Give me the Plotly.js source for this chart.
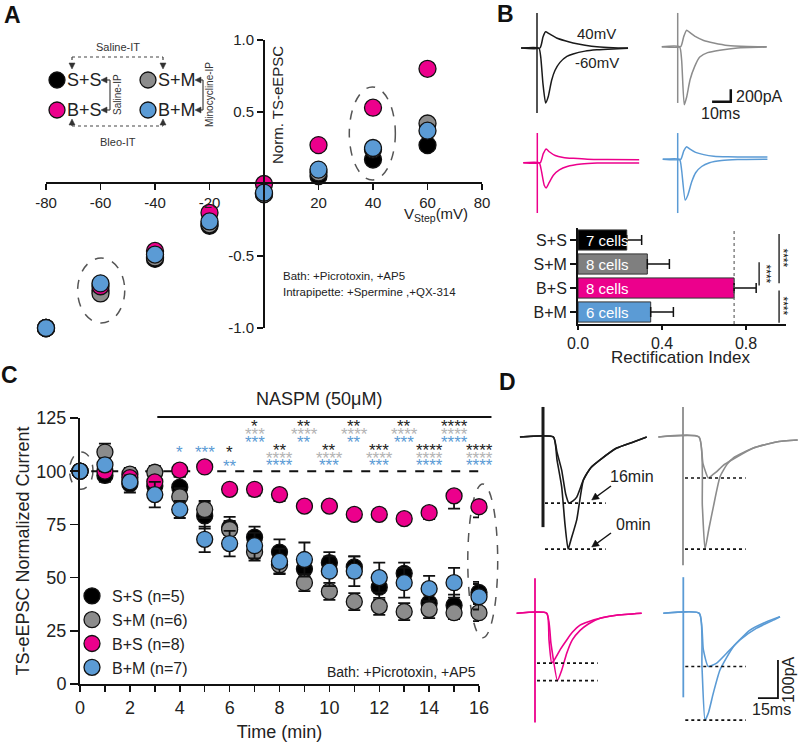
<!DOCTYPE html>
<html><head><meta charset="utf-8">
<script src="https://cdn.plot.ly/plotly-3.0.1.min.js"></script>
<style>body{margin:0;background:#fff}</style>
</head><body><div id="chart" style="width:800px;height:742px"></div>
<script>
// ================= DATA =================
const groups = ['S+S','S+M','B+S','B+M'];
const groupColors = ['#000000','#8c8c8c','#ec008c','#5b9bd5'];
const legendNames = ['S+S (n=5)','S+M (n=6)','B+S (n=8)','B+M (n=7)'];

// Panel A: I-V relation (normalized TS-eEPSC)
const vStep = [-80,-60,-40,-20,0,20,40,60];
const ivSS = [-1.0,-0.74,-0.52,-0.29,-0.07,0.055,0.17,0.27];
const ivSM = [-1.0,-0.76,-0.51,-0.28,-0.07,0.08,0.24,0.42];
const ivBS = [-1.0,-0.71,-0.465,-0.20,0.0,0.27,0.53,0.80];
const ivBM = [-1.0,-0.69,-0.49,-0.26,-0.06,0.10,0.25,0.37];
const ivXTicks = [-80,-60,-40,-20,20,40,60,80];
const ivXText = ['-80','-60','-40','-20','20','40','60','80'];
const ivYTicks = [-1.0,-0.5,0.5,1.0];
const ivYText = ['-1.0','-0.5','0.5','1.0'];

// Panel B: rectification index
const riValues = [0.232,0.33,0.743,0.346];
const riErrors = [0.071,0.105,0.105,0.108];
const riCells = ['7 cells','8 cells','8 cells','6 cells'];
const riTicks = [0,0.4,0.8];
const riTickText = ['0.0','0.4','0.8'];

// Panel B example traces (ms, pA) at -60 mV and +40 mV
const bSS_n60_t = [-8.5,1,2,3.2,4.6,6,7.8,9.6,12.3,16,19.3,25.7,32,40.7,48.7];
const bSS_n60_pA = [0,0,-145,-575,-880,-780,-520,-360,-230,-135,-95,-50,-30,-15,-5];
const bSS_p40_t = [-8.5,1.6,3.2,4.6,6.4,10.5,15,19.3,25.7,32,40.7,48.7];
const bSS_p40_pA = [0,0,175,260,230,160,115,80,45,20,5,0];
const bSS_art = [560,-1040];
const bSM_n60_t = [-8.5,1,2.1,3.5,4.8,6.6,9.1,11.8,16,22.5,32,47.6];
const bSM_n60_pA = [0,0,-215,-930,-805,-530,-315,-165,-95,-55,-20,-5];
const bSM_p40_t = [-8.5,1.6,3.2,4.8,6.4,9.6,13.9,19.3,26.8,37.5,47.6];
const bSM_p40_pA = [0,0,160,265,230,160,100,60,20,5,0];
const bSM_art = [540,-900];
const bBS_n60_t = [-7.5,1,2.1,3.7,4.8,6.4,8.6,11.8,16,23.5,32,54.5];
const bBS_n60_pA = [0,0,-115,-360,-405,-315,-200,-115,-60,-20,-5,-5];
const bBS_p40_t = [-7.5,1.6,3.2,4.8,6.4,9.6,13.9,19.3,26.8,37.5,54.5];
const bBS_p40_pA = [0,0,145,219,175,115,85,70,55,50,48];
const bBS_art = [475,-805];
const bBM_n60_t = [-8,1,2.1,4,5.4,7.5,9.6,12.8,17,23.5,32,48];
const bBM_n60_pA = [0,0,-175,-651,-575,-360,-215,-115,-55,-20,-5,0];
const bBM_p40_t = [-8,1.6,3.2,4.8,6.4,9.6,13.9,19.3,26.8,37.5,48];
const bBM_p40_pA = [0,0,130,202,165,110,75,50,40,36,36];
const bBM_art = [420,-860];
const scaleB_ms = 10, scaleB_pA = 200;

// Panel C: NASPM time course
const timeMin = [0,1,2,3,4,5,6,7,8,9,10,11,12,13,14,15,16];
const cSS = [100,98,94,93,92.5,79,73.5,69,62,54,57,55,45.5,52,38,37,43];
const cSM = [100,109,98.6,99.5,88,82,72.6,62,56,47.6,43.5,38.7,36.5,34,35,33.5,33.5];
const cBS = [100,100,97,95,100.5,102,91.5,91.5,89,83.6,83.6,79.7,79.7,77.7,80.5,88.4,83.3];
const cBM = [100,103,95,89,82,68,66,65,57.6,58.5,53,53,50,47.6,44.8,47.6,41];
const cSS_err = [0,3,4,4,5,6,5,5,6,6,5,5,6,5,4,5,5];
const cSM_err = [0,4,3,3,4,4,4,4,4,4,4,4,4,4,4,3,4];
const cBS_err = [0,2,2,2,3,2,2,3,3,2,2,2,2,2,3,6,5];
const cBM_err = [0,3,3,6,4,6,6,6,6,8,7,7,7,7,6,7,6];
const cYTicks = [0,25,50,75,100,125];
const starTimes = [4,5,6,7,8,9,10,11,12,13,14,15,16];
const starSS = ['','','*','*','**','**','**','**','***','**','****','****','****'];
const starSM = ['','','','***','****','****','****','****','****','****','****','****','****'];
const starBM = ['*','***','**','***','****','**','***','**','***','***','****','****','****'];

// Panel D example traces (ms, pA) at 0 min and 16 min of NASPM
const dSS_0_t = [-17.3,7.8,10.5,14,16.5,18.8,21,25.3,30.3,36,42.8,55.3,67.8,77.8];
const dSS_0_pA = [0,0,-60,-131,-230,-295,-270,-218,-113,-80,-60,-29,-13,0];
const dSS_16_t = [-17.3,7.8,10.5,14,17,19.5,22.5,25.3,30.3,36,42.8,55.3,67.8,77.8];
const dSS_16_pA = [0,0,-40,-87,-150,-174,-168,-158,-113,-80,-60,-29,-13,0];
const dSS_art = [79,-237];
const dSM_0_t = [-18.5,12,14.5,16.5,19.5,22.8,27.8,33,37.8,52.8,70,86];
const dSM_0_pA = [0,0,-180,-295,-240,-183,-104,-72,-55,-29,-13,-8];
const dSM_16_t = [-18.5,12,15,19,22,25.3,30,37.8,52.8,70,86];
const dSM_16_pA = [0,0,-70,-108,-100,-91,-75,-58,-29,-13,-8];
const dSM_art = [79,-337];
const dBS_0_t = [-13.8,8.8,12,16.8,20,23.8,28,33.8,40,48.8,61,80];
const dBS_0_pA = [0,0,-80,-177,-150,-105,-70,-45,-28,-13,-5,0];
const dBS_16_t = [-13.8,8.8,10.5,12.5,15,19,23.8,28,33.8,40,48.8,61,80];
const dBS_16_pA = [0,0,-70,-131,-120,-95,-70,-50,-31,-22,-13,-5,0];
const dBS_art = [92,-287];
const dBM_0_t = [-15,12,14,16.3,19,22.5,27.5,37.5,50,62.5,72.5];
const dBM_0_pA = [0,0,-140,-281,-260,-210,-149,-88,-44,-22,-9];
const dBM_16_t = [-15,12,15,18.8,25,32.5,42.5,55,67.5,72.5];
const dBM_16_pA = [0,0,-95,-140,-131,-105,-70,-39,-18,-9];
const dBM_art = [95,-221];
const scaleD_ms = 15, scaleD_pA = 100;

// ================= LAYOUT HELPERS =================
const W = 800, H = 742;
const px = x => x / W;
const py = y => (H - y) / H;
const FONT = 'Liberation Sans, Arial, Helvetica, sans-serif';
const traceCol = ['#1a1a1a','#8c8c8c','#ec008c','#5b9bd5'];

const layout = {
  width: W, height: H,
  margin: {l:0, r:0, t:0, b:0},
  paper_bgcolor: '#ffffff', plot_bgcolor: 'rgba(0,0,0,0)',
  font: {family: FONT, color: '#222', size: 14},
  showlegend: true,
  legend: {x: px(72), y: py(579), xanchor: 'left', yanchor: 'top', bgcolor: 'rgba(0,0,0,0)',
           font: {size: 16, family: FONT, color: '#222'}, itemsizing: 'trace', tracegroupgap: 0},
  shapes: [], annotations: []
};
const traces = [];
const S = layout.shapes, A = layout.annotations;

function segPx(x0,y0,x1,y1,dash,col,w){
  S.push({type:'line', xref:'paper', yref:'paper', x0:px(x0), y0:py(y0), x1:px(x1), y1:py(y1),
          line:{color:col||'#444', width:w||1.2, dash:dash||'solid'}});
}
function headPx(tx,ty,ux,uy,len,half,col){
  const L = Math.hypot(ux,uy); ux/=L; uy/=L;
  const bx = tx-ux*len, by = ty-uy*len, nx = -uy, ny = ux;
  const pts = [[tx,ty],[bx+nx*half,by+ny*half],[bx-nx*half,by-ny*half]];
  S.push({type:'path', xref:'paper', yref:'paper',
    path:'M'+pts.map(p=>px(p[0])+','+py(p[1])).join(' L')+' Z',
    fillcolor:col||'#333', line:{color:col||'#333', width:0.5}});
}
function circPx(cx, cy, r, col){
  S.push({type:'circle', xref:'paper', yref:'paper', x0:px(cx-r), x1:px(cx+r), y0:py(cy+r), y1:py(cy-r),
          fillcolor:col, line:{color:'#111', width:1.3}});
}
function textPx(t, x, y, size, opts){
  A.push(Object.assign({text:t, xref:'paper', yref:'paper', x:px(x), y:py(y), showarrow:false,
    xanchor:'center', yanchor:'middle', font:{size:size, color:'#222'}}, opts||{}));
}

// ----- Panel A axes (cross at origin) -----
layout.xaxis = {domain:[px(46), px(482)], range:[-80,80], anchor:'free', position: py(183),
  tickvals: ivXTicks, ticktext: ivXText, ticks:'outside', ticklen:6, tickwidth:1.5, tickcolor:'#111',
  showline:true, linewidth:2, linecolor:'#111', showgrid:false, zeroline:false,
  tickfont:{size:15, color:'#222'}, fixedrange:true};
layout.yaxis = {domain:[py(328), py(40)], range:[-1,1], anchor:'free', position: px(264),
  tickvals: ivYTicks, ticktext: ivYText, ticks:'outside', ticklen:6, tickwidth:1.5, tickcolor:'#111',
  showline:true, linewidth:2, linecolor:'#111', showgrid:false, zeroline:false,
  tickfont:{size:15, color:'#222'}, fixedrange:true};

[ivSS, ivSM, ivBS, ivBM].forEach((vals, i) => traces.push({
  type:'scatter', mode:'markers', x: vStep, y: vals, xaxis:'x', yaxis:'y',
  marker:{size:17, color: groupColors[i], line:{color:'#111', width:1.3}},
  cliponaxis:false, showlegend:false, hoverinfo:'skip'}));

S.push({type:'circle', xref:'x', yref:'y', x0:-68.4, x1:-51.1, y0:-0.965, y1:-0.514, layer:'below',
        line:{color:'#555', width:1.5, dash:'dash'}});
S.push({type:'circle', xref:'x', yref:'y', x0:31.3, x1:48.2, y0:0.028, y1:0.674, layer:'below',
        line:{color:'#555', width:1.5, dash:'dash'}});

textPx('Norm. TS-eEPSC', 278, 105, 15, {textangle:-90});
textPx('V<sub>Step</sub>(mV)', 470, 214, 15, {xanchor:'right'});
textPx('Bath: +Picrotoxin, +AP5', 281, 276, 11.5, {xanchor:'left'});
textPx('Intrapipette: +Spermine ,+QX-314', 281, 292, 11.5, {xanchor:'left'});

// schematic legend in A
const schem = [[57,80],[148,80],[57,110],[148,110]]; // S+S, S+M, B+S, B+M
groups.forEach((g,i)=>{
  circPx(schem[i][0], schem[i][1], 8, groupColors[i]);
  textPx(g, schem[i][0]+8, schem[i][1], 18, {xanchor:'left'});
});
segPx(72,57,163,57,'dot'); segPx(72,57,72,64,'dot'); segPx(163,57,163,64,'dot');
headPx(72,69,0,1,6,3); headPx(163,69,0,1,6,3);
textPx('Saline-IT', 118, 47, 11, {font:{size:11, color:'#333'}});
segPx(72,126,163,126,'dot'); segPx(72,126,72,124,'dot'); segPx(163,126,163,124,'dot');
headPx(72,119,0,-1,6,3); headPx(163,119,0,-1,6,3);
textPx('Bleo-IT', 118, 142, 11, {font:{size:11, color:'#333'}});
segPx(110,80,110,110,'solid','#444',1.2); segPx(105,80,110,80,'solid','#444',1.2); segPx(105,110,110,110,'solid','#444',1.2);
headPx(101,80,-1,0,6,3); headPx(101,110,-1,0,6,3);
textPx('Saline-IP', 118, 95, 10, {textangle:-90, font:{size:10, color:'#333'}});
segPx(203,80,203,110,'solid','#444',1.2); segPx(199,80,203,80,'solid','#444',1.2); segPx(199,110,203,110,'solid','#444',1.2);
headPx(195,80,-1,0,6,3); headPx(195,110,-1,0,6,3);
textPx('Minocycline-IP', 210, 95, 10, {textangle:-90, font:{size:10, color:'#333'}});

// ----- Panel B bar chart -----
layout.xaxis2 = {domain:[px(578), px(786)], range:[0,0.99], anchor:'y2', tickvals: riTicks, ticktext: riTickText,
  ticks:'outside', ticklen:4, tickwidth:1.5, tickcolor:'#111', showline:true, linewidth:2, linecolor:'#111',
  showgrid:false, zeroline:false, tickfont:{size:16}, fixedrange:true};
layout.yaxis2 = {domain:[py(324), py(228)], type:'category', categoryorder:'array', categoryarray: groups,
  range:[3.5,-0.5], anchor:'x2', ticks:'outside', ticklen:6, tickwidth:1.5, tickcolor:'#111',
  showline:true, linewidth:2, linecolor:'#111', showgrid:false, tickfont:{size:16}, fixedrange:true};
traces.push({type:'bar', orientation:'h', x: riValues, y: groups, xaxis:'x2', yaxis:'y2',
  marker:{color: ['#000000','#7f7f7f','#ec008c','#5b9bd5'], line:{color:'#333', width:1}},
  error_x:{type:'data', symmetric:false, array: riErrors, arrayminus: riErrors.map(()=>0), color:'#111', thickness:1.5, width:5},
  width:0.84, showlegend:false, hoverinfo:'skip'});
textPx('Rectification Index', 680, 357, 17);
riCells.forEach((t,i)=>A.push({text:t, xref:'x2', yref:'y2', x:0, y:groups[i], xanchor:'left', yanchor:'middle', xshift:6,
  showarrow:false, font:{size:15, color:'#ffffff'}}));
S.push({type:'line', xref:'x2', yref:'y2 domain', x0:riValues[2], x1:riValues[2], y0:0, y1:1,
  line:{color:'#666', width:1.2, dash:'dot'}});
S.push({type:'line', xref:'x2', yref:'y2', x0:0.862, x1:0.862, y0:0.93, y1:1.9, line:{color:'#111', width:1.3}});
S.push({type:'line', xref:'x2', yref:'y2', x0:0.957, x1:0.957, y0:-0.25, y1:1.8, line:{color:'#111', width:1.3}});
S.push({type:'line', xref:'x2', yref:'y2', x0:0.957, x1:0.957, y0:2.1, y1:3.45, line:{color:'#111', width:1.3}});
[[0.895,1.4],[0.978,0.75],[0.978,2.75]].forEach(p=>A.push({text:'****', xref:'x2', yref:'y2', x:p[0], y:p[1],
  xanchor:'center', yanchor:'middle', textangle:90, showarrow:false, font:{size:12, color:'#111'}}));

// ----- Trace panels (B and D) -----
let tpIndex = 4;
function tracePanel(box, origin, scale){
  const n = tpIndex++;
  layout['xaxis'+n] = {domain:[px(box[0]), px(box[1])], range:[(box[0]-origin[0])*scale[0], (box[1]-origin[0])*scale[0]],
                        anchor:'y'+n, visible:false, fixedrange:true};
  layout['yaxis'+n] = {domain:[py(box[3]), py(box[2])], range:[(origin[1]-box[3])*scale[1], (origin[1]-box[2])*scale[1]],
                        anchor:'x'+n, visible:false, fixedrange:true};
  return n;
}
function addLine(n, t, v, col, w, dash, spline){
  traces.push({type:'scatter', mode:'lines', x:t, y:v, xaxis:'x'+n, yaxis:'y'+n,
    line:{color:col, width:w, dash:dash||'solid', shape: spline ? 'spline' : 'linear', smoothing:0.5},
    showlegend:false, hoverinfo:'skip', cliponaxis:false});
}
const sB = [0.535, 16];
const pB = [
  tracePanel([512,648,0,122],[537,48],sB),
  tracePanel([652,800,0,122],[677.7,46.7],sB),
  tracePanel([512,648,125,225],[537.3,162.7],sB),
  tracePanel([652,800,125,225],[677.7,159.3],sB)];
const bData = [
  [bSS_n60_t,bSS_n60_pA,bSS_p40_t,bSS_p40_pA,bSS_art],
  [bSM_n60_t,bSM_n60_pA,bSM_p40_t,bSM_p40_pA,bSM_art],
  [bBS_n60_t,bBS_n60_pA,bBS_p40_t,bBS_p40_pA,bBS_art],
  [bBM_n60_t,bBM_n60_pA,bBM_p40_t,bBM_p40_pA,bBM_art]];
bData.forEach((d,i)=>{
  addLine(pB[i], [0,0], d[4], traceCol[i], 1.5);
  addLine(pB[i], d[0], d[1], traceCol[i], 1.5, null, true);
  addLine(pB[i], d[2], d[3], traceCol[i], 1.5, null, true);
});
const sbB = [28.4, -880];
addLine(pB[1], [sbB[0]-scaleB_ms, sbB[0], sbB[0]], [sbB[1], sbB[1], sbB[1]+scaleB_pA], '#111', 2.5);
A.push({text: scaleB_pA+'pA', xref:'x'+pB[1], yref:'y'+pB[1], x:sbB[0], y:sbB[1]+scaleB_pA*0.45, xanchor:'left', yanchor:'middle', xshift:3,
        showarrow:false, font:{size:16, color:'#222'}});
A.push({text: scaleB_ms+'ms', xref:'x'+pB[1], yref:'y'+pB[1], x:sbB[0]-scaleB_ms*0.55, y:sbB[1], xanchor:'center', yanchor:'top', yshift:-1,
        showarrow:false, font:{size:16, color:'#222'}});
textPx('40mV', 596, 33, 15);
textPx('-60mV', 597, 62, 15);

const sD = [0.75, 2.63];
const pD = [
  tracePanel([505,655,395,565],[543,437],sD),
  tracePanel([655,800,395,572],[683,437],sD),
  tracePanel([505,655,572,735],[535,613.3],sD),
  tracePanel([655,800,572,735],[683.3,613.3],sD)];
const dData = [
  [dSS_0_t,dSS_0_pA,dSS_16_t,dSS_16_pA,dSS_art],
  [dSM_0_t,dSM_0_pA,dSM_16_t,dSM_16_pA,dSM_art],
  [dBS_0_t,dBS_0_pA,dBS_16_t,dBS_16_pA,dBS_art],
  [dBM_0_t,dBM_0_pA,dBM_16_t,dBM_16_pA,dBM_art]];
dData.forEach((d,i)=>{
  addLine(pD[i], [0,0], d[4], traceCol[i], i===0 ? 3 : 1.8);
  addLine(pD[i], d[0], d[1], traceCol[i], 1.6, null, true);
  addLine(pD[i], d[2], d[3], traceCol[i], 1.6, null, true);
  const lv16 = Math.min(...d[3]), lv0 = Math.min(...d[1]);
  addLine(pD[i], [1.5,47], [lv16,lv16], '#111', 1.6, 'dot');
  addLine(pD[i], [1.5,47], [lv0,lv0], '#111', 1.6, 'dot');
});
A.push({text:'16min', xref:'x'+pD[0], yref:'y'+pD[0], x:66.75, y:-105, xanchor:'center', yanchor:'middle', showarrow:false, font:{size:16, color:'#222'}});
A.push({text:'0min', xref:'x'+pD[0], yref:'y'+pD[0], x:67.7, y:-231, xanchor:'center', yanchor:'middle', showarrow:false, font:{size:16, color:'#222'}});
segPx(611,486,596,497,'solid','#111',1.5); headPx(591.7,500,-18,13,7,3.5,'#111');
segPx(611,533,596,544,'solid','#111',1.5); headPx(591.7,547,-18,13,7,3.5,'#111');
const sbD = [71, -223];
addLine(pD[3], [sbD[0]-scaleD_ms, sbD[0], sbD[0]], [sbD[1], sbD[1], sbD[1]+scaleD_pA], '#111', 1.8);
A.push({text: scaleD_pA+'pA', xref:'x'+pD[3], yref:'y'+pD[3], x:sbD[0], y:sbD[1]+scaleD_pA*0.5, xshift:10, textangle:-90,
        xanchor:'center', yanchor:'middle', showarrow:false, font:{size:16, color:'#222'}});
A.push({text: scaleD_ms+'ms', xref:'x'+pD[3], yref:'y'+pD[3], x:sbD[0]-scaleD_ms*0.5+3, y:sbD[1], xanchor:'center', yanchor:'top', yshift:-1,
        showarrow:false, font:{size:16, color:'#222'}});

// ----- Panel C -----
layout.xaxis3 = {domain:[px(80), px(479)], range:[0,16], anchor:'y3', tickvals: timeMin.filter(t => t % 2 === 0),
  ticks:'outside', ticklen:6, tickwidth:1.5, tickcolor:'#111',
  minor:{tickvals: timeMin, ticks:'outside', ticklen:6, tickwidth:1.5, tickcolor:'#111'},
  showline:true, linewidth:2, linecolor:'#111', showgrid:false, zeroline:false, tickfont:{size:18},
  title:{text:'Time (min)', font:{size:18}, standoff:9}, fixedrange:true};
layout.yaxis3 = {domain:[py(684), py(418)], range:[0,125], anchor:'x3', tickvals: cYTicks,
  ticks:'outside', ticklen:8, tickwidth:1.5, tickcolor:'#111', showline:true, linewidth:2, linecolor:'#111',
  showgrid:false, zeroline:false, tickfont:{size:18},
  title:{text:'TS-eEPSC Normalized Current', font:{size:18}, standoff:2}, fixedrange:true};
const cSeries = [cSS, cSM, cBS, cBM];
const cErrs = [cSS_err, cSM_err, cBS_err, cBM_err];
cSeries.forEach((vals,i)=>{
  const eb = i === 2
    ? {type:'data', symmetric:false, array: cErrs[i].map(()=>0), arrayminus: cErrs[i], color:'#111', thickness:1.8, width:6}
    : {type:'data', array: cErrs[i], color:'#111', thickness:1.8, width:6};
  traces.push({type:'scatter', mode:'markers', x: timeMin, y: vals, xaxis:'x3', yaxis:'y3', name: legendNames[i],
    marker:{size:16, color: groupColors[i], line:{color:'#111', width:1.3}}, error_y: eb,
    cliponaxis:false, showlegend:true, hoverinfo:'skip'});
});
const cx = t => px(80 + t * 399/16);
const cy = v => py(684 - v * 266/125);
S.push({type:'line', xref:'x3', yref:'y3', x0:0.45, x1:16, y0:100, y1:100, line:{color:'#111', width:2, dash:'dash'}, layer:'below'});
S.push({type:'line', xref:'paper', yref:'paper', x0:cx(3.1), x1:cx(16.5), y0:cy(125.5), y1:cy(125.5), line:{color:'#111', width:2}});
A.push({text:'NASPM (50\u03bcM)', xref:'paper', yref:'paper', x:cx(9.6), y:cy(134), xanchor:'center', yanchor:'middle', showarrow:false, font:{size:18, color:'#222'}});
S.push({type:'circle', xref:'paper', yref:'paper', x0:cx(-0.42), x1:cx(0.52), y0:cy(91.5), y1:cy(109), layer:'below',
        line:{color:'#555', width:1.5, dash:'dash'}});
S.push({type:'circle', xref:'paper', yref:'paper', x0:cx(15.55), x1:cx(16.75), y0:cy(21.7), y1:cy(94), layer:'below',
        line:{color:'#555', width:1.5, dash:'dash'}});
textPx('Bath: +Picrotoxin, +AP5', 478, 672, 14, {xanchor:'right'});
const starCols = ['#222222','#b3b3b3','#5b9bd5'];
starTimes.forEach((t,k)=>{
  const rows = [starSS[k], starSM[k], starBM[k]];
  const put = (s, yv, r) => A.push({text:s, xref:'x3', yref:'y3', x:t, y:yv, yshift:-3, xanchor:'center', yanchor:'middle',
      showarrow:false, font:{size:17, color:starCols[r]}});
  if (t >= 7) {
    const base = (t % 2 === 1) ? 122.2 : 111.3;
    rows.forEach((s,r)=>{ if (s) put(s, base - r*3.7, r); });
  } else {
    let yv = 110.4;
    rows.forEach((s,r)=>{ if (s) { put(s, yv, r); yv -= 7; } });
  }
});

// panel letters
[['A',12,15],['B',506,14],['C',9,375],['D',507,382]].forEach(l=>textPx('<b>'+l[0]+'</b>', l[1], l[2], 23, {font:{size:23, color:'#111'}}));

Plotly.newPlot('chart', traces, layout, {displayModeBar:false, staticPlot:true});
</script>
</body></html>
